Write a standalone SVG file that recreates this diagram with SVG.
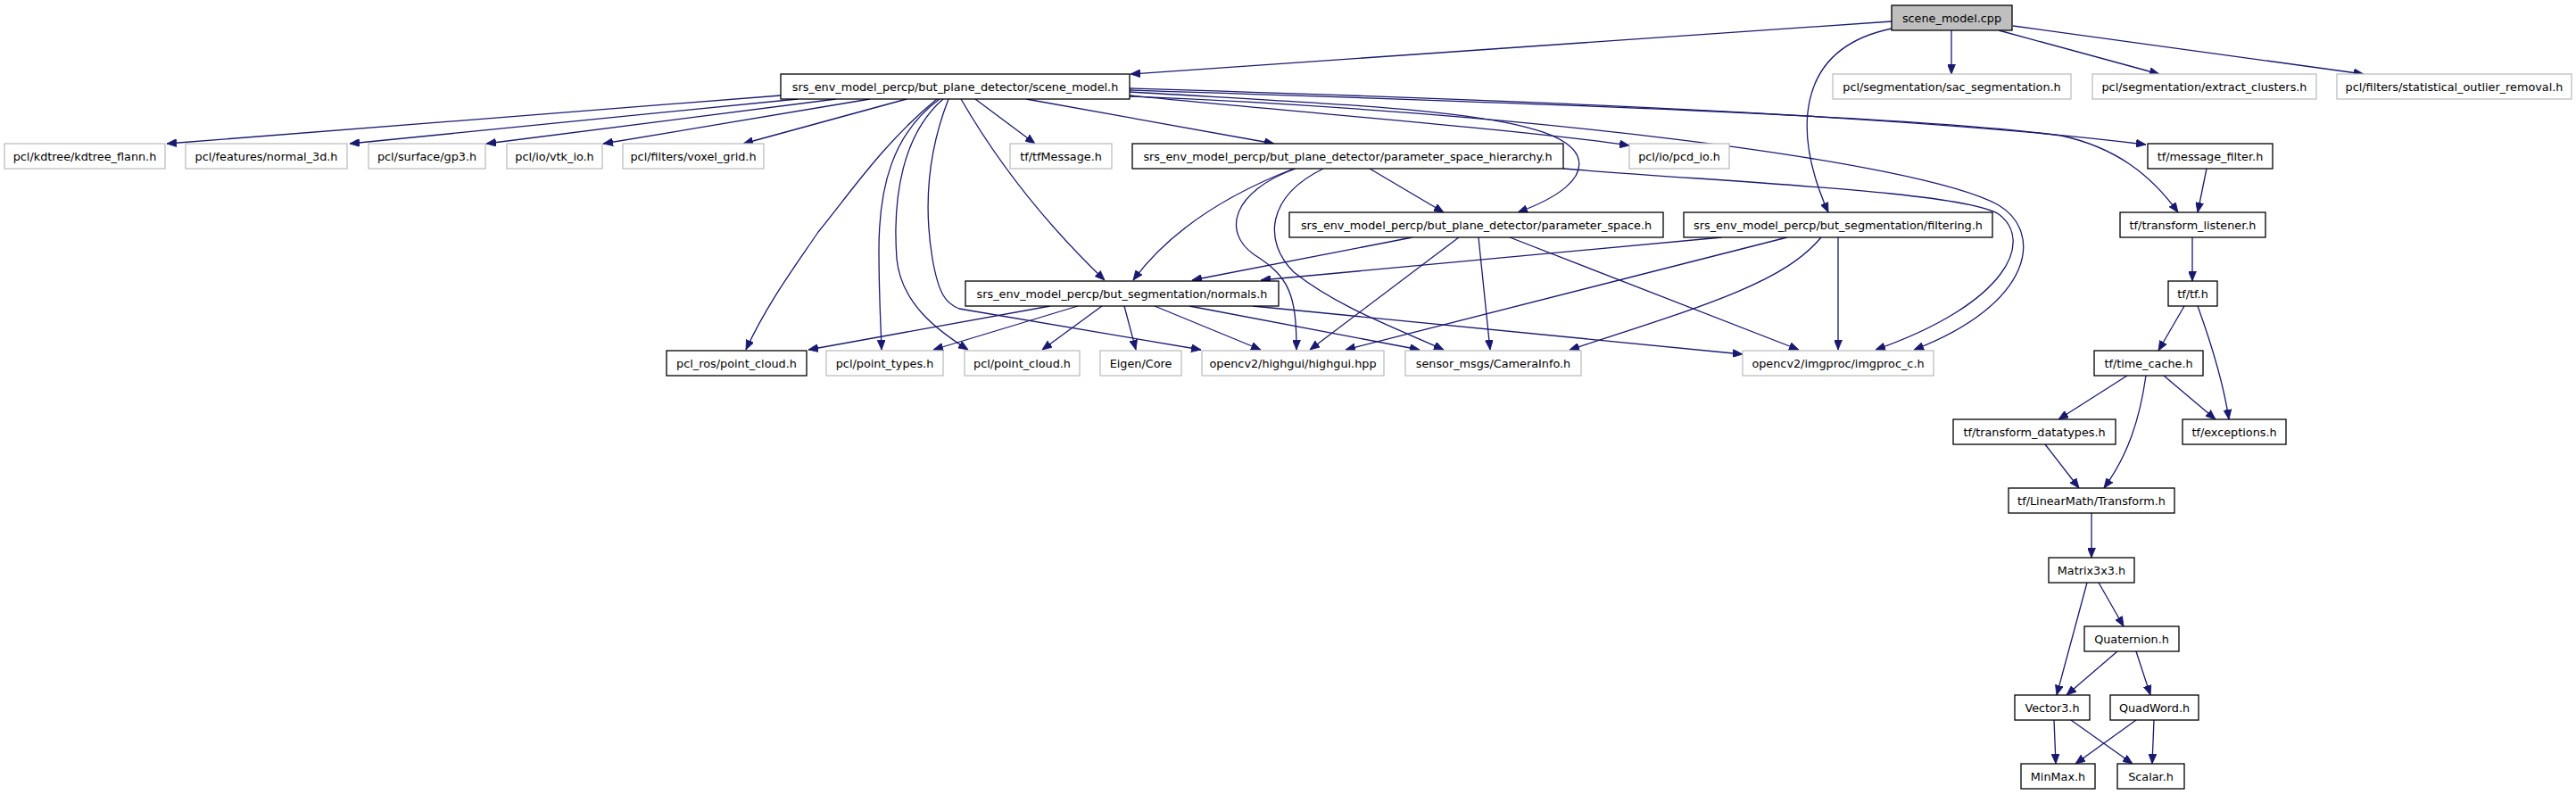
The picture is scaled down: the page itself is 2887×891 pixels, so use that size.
<svg xmlns="http://www.w3.org/2000/svg" width="2887" height="891" viewBox="0 0 2887 891">
<style>
.bg{fill:#fff}
.n rect{fill:#fff;stroke:#000;stroke-width:1.3}
.g rect{fill:#fff;stroke:#bfbfbf;stroke-width:1.3}
.r rect{fill:#bfbfbf;stroke:#000;stroke-width:1.3}
text{font-family:"DejaVu Sans","Liberation Sans",sans-serif;font-size:12.8px;fill:#000;text-anchor:middle}
#edges path{fill:none;stroke:#191970;stroke-width:1.3;marker-end:url(#ah)}
</style>
<defs>
<marker id="ah" viewBox="0 0 11 9" refX="11" refY="4.5" markerWidth="11" markerHeight="9" markerUnits="userSpaceOnUse" orient="auto">
<path d="M0,0 L11,4.5 L0,9 z" fill="#191970" stroke="#191970" stroke-width="0.8"/>
</marker>
</defs>
<rect class="bg" x="0" y="0" width="2887" height="891"/>
<g id="edges">
<path d="M2120,24 L1267,83"/>
<path d="M2187,34 L2187,83"/>
<path d="M2240,34 L2420,83"/>
<path d="M2256,29 L2649,83"/>
<path d="M2120,32 C2010,55 2010,150 2049,238"/>
<path d="M875,107 L187,161"/>
<path d="M894,111 L392,161"/>
<path d="M937,111 L545,161"/>
<path d="M975,111 L676,161"/>
<path d="M1016,111 L833,161"/>
<path d="M1050,111 C990,160 950,220 917,260 C890,300 860,340 836,392"/>
<path d="M1053,111 C1000,150 985,210 985,280 C985,330 987,360 988,392"/>
<path d="M1057,111 C1012,150 1000,220 1005,290 C1010,340 1050,370 1085,392"/>
<path d="M1063,111 C1040,170 1035,230 1045,290 C1052,330 1060,340 1075,346 L1346,392"/>
<path d="M1077,111 Q1140,220 1238,314"/>
<path d="M1093,111 L1160,161"/>
<path d="M1150,111 L1428,161"/>
<path d="M1266,107 C1500,130 1700,145 1826,163"/>
<path d="M1266,103 C1550,120 1745,125 1768,175 C1778,200 1745,222 1701,238"/>
<path d="M1266,99 C1700,112 2150,130 2405,162"/>
<path d="M1266,101 C1700,115 2150,130 2310,152 C2370,165 2410,195 2441,238"/>
<path d="M1266,108 C1700,125 2150,180 2240,230 C2290,260 2280,340 2145,392"/>
<path d="M1535,189 L1618,238"/>
<path d="M1450,189 C1370,220 1310,260 1270,314"/>
<path d="M1452,189 C1380,215 1370,260 1405,285 C1445,310 1453,330 1453,392"/>
<path d="M1483,189 C1420,220 1415,270 1450,305 C1500,345 1570,370 1618,392"/>
<path d="M1752,189 C1950,205 2200,215 2240,240 C2280,270 2250,340 2102,392"/>
<path d="M1583,266 L1336,314"/>
<path d="M1635,266 L1468,392"/>
<path d="M1657,266 L1670,392"/>
<path d="M1692,266 L2016,392"/>
<path d="M1930,266 L1413,314"/>
<path d="M2003,266 L1508,392"/>
<path d="M2041,266 C2000,315 1920,340 1759,392"/>
<path d="M2060,266 L2060,392"/>
<path d="M1177,343 L906,392"/>
<path d="M1208,343 L1046,392"/>
<path d="M1235,343 L1168,392"/>
<path d="M1260,343 L1273,392"/>
<path d="M1294,343 L1413,392"/>
<path d="M1333,343 L1591,392"/>
<path d="M1404,343 L1953,397"/>
<path d="M2473,189 L2463,238"/>
<path d="M2457,266 L2457,315"/>
<path d="M2448,343 L2419,393"/>
<path d="M2463,343 C2480,390 2492,430 2498,470"/>
<path d="M2384,421 L2307,470"/>
<path d="M2405,421 C2398,470 2385,510 2358,547"/>
<path d="M2425,421 L2483,470"/>
<path d="M2292,498 L2330,547"/>
<path d="M2344,575 L2344,625"/>
<path d="M2339,653 L2305,779"/>
<path d="M2352,653 L2380,702"/>
<path d="M2373,730 L2316,779"/>
<path d="M2394,730 L2410,779"/>
<path d="M2302,807 L2304,856"/>
<path d="M2321,807 L2390,856"/>
<path d="M2394,807 L2326,856"/>
<path d="M2414,807 L2412,856"/>
</g>
<g id="cpp" class="r"><rect x="2120" y="6" width="135" height="28"/><text x="2187.5" y="24.5">scene_model.cpp</text></g>
<g id="sm" class="n"><rect x="875" y="83" width="391" height="28"/><text x="1070.5" y="101.5">srs_env_model_percp/but_plane_detector/scene_model.h</text></g>
<g id="sac" class="g"><rect x="2054" y="83" width="267" height="28"/><text x="2187.5" y="101.5">pcl/segmentation/sac_segmentation.h</text></g>
<g id="ext" class="g"><rect x="2345" y="83" width="251" height="28"/><text x="2470.5" y="101.5">pcl/segmentation/extract_clusters.h</text></g>
<g id="sor" class="g"><rect x="2619" y="83" width="263" height="28"/><text x="2750.5" y="101.5">pcl/filters/statistical_outlier_removal.h</text></g>
<g id="kd" class="g"><rect x="5" y="161" width="180" height="28"/><text x="95" y="179.5">pcl/kdtree/kdtree_flann.h</text></g>
<g id="n3d" class="g"><rect x="208" y="161" width="181" height="28"/><text x="298.5" y="179.5">pcl/features/normal_3d.h</text></g>
<g id="gp3" class="g"><rect x="413" y="161" width="131" height="28"/><text x="478.5" y="179.5">pcl/surface/gp3.h</text></g>
<g id="vtk" class="g"><rect x="568" y="161" width="107" height="28"/><text x="621.5" y="179.5">pcl/io/vtk_io.h</text></g>
<g id="vox" class="g"><rect x="698" y="161" width="158" height="28"/><text x="777" y="179.5">pcl/filters/voxel_grid.h</text></g>
<g id="tfm" class="g"><rect x="1132" y="161" width="114" height="28"/><text x="1189" y="179.5">tf/tfMessage.h</text></g>
<g id="psh" class="n"><rect x="1269" y="161" width="483" height="28"/><text x="1510.5" y="179.5">srs_env_model_percp/but_plane_detector/parameter_space_hierarchy.h</text></g>
<g id="pcd" class="g"><rect x="1826" y="161" width="112" height="28"/><text x="1882" y="179.5">pcl/io/pcd_io.h</text></g>
<g id="mf" class="n"><rect x="2407" y="161" width="140" height="28"/><text x="2477" y="179.5">tf/message_filter.h</text></g>
<g id="ps" class="n"><rect x="1445" y="238" width="419" height="28"/><text x="1654.5" y="256.5">srs_env_model_percp/but_plane_detector/parameter_space.h</text></g>
<g id="flt" class="n"><rect x="1887" y="238" width="346" height="28"/><text x="2060" y="256.5">srs_env_model_percp/but_segmentation/filtering.h</text></g>
<g id="tl" class="n"><rect x="2376" y="238" width="163" height="28"/><text x="2457.5" y="256.5">tf/transform_listener.h</text></g>
<g id="nrm" class="n"><rect x="1082" y="315" width="351" height="28"/><text x="1257.5" y="333.5">srs_env_model_percp/but_segmentation/normals.h</text></g>
<g id="tf" class="n"><rect x="2430" y="315" width="55" height="28"/><text x="2457.5" y="333.5">tf/tf.h</text></g>
<g id="pros" class="n"><rect x="747" y="393" width="157" height="28"/><text x="825.5" y="411.5">pcl_ros/point_cloud.h</text></g>
<g id="pt" class="g"><rect x="926" y="393" width="131" height="28"/><text x="991.5" y="411.5">pcl/point_types.h</text></g>
<g id="pc" class="g"><rect x="1081" y="393" width="129" height="28"/><text x="1145.5" y="411.5">pcl/point_cloud.h</text></g>
<g id="eig" class="g"><rect x="1233" y="393" width="91" height="28"/><text x="1278.5" y="411.5">Eigen/Core</text></g>
<g id="hg" class="g"><rect x="1347" y="393" width="204" height="28"/><text x="1449" y="411.5">opencv2/highgui/highgui.hpp</text></g>
<g id="cam" class="g"><rect x="1575" y="393" width="197" height="28"/><text x="1673.5" y="411.5">sensor_msgs/CameraInfo.h</text></g>
<g id="imp" class="g"><rect x="1953" y="393" width="214" height="28"/><text x="2060" y="411.5">opencv2/imgproc/imgproc_c.h</text></g>
<g id="tc" class="n"><rect x="2347" y="393" width="122" height="28"/><text x="2408" y="411.5">tf/time_cache.h</text></g>
<g id="td" class="n"><rect x="2189" y="470" width="182" height="28"/><text x="2280" y="488.5">tf/transform_datatypes.h</text></g>
<g id="exc" class="n"><rect x="2446" y="470" width="116" height="28"/><text x="2504" y="488.5">tf/exceptions.h</text></g>
<g id="tr" class="n"><rect x="2251" y="547" width="186" height="28"/><text x="2344" y="565.5">tf/LinearMath/Transform.h</text></g>
<g id="mat" class="n"><rect x="2296" y="625" width="96" height="28"/><text x="2344" y="643.5">Matrix3x3.h</text></g>
<g id="qt" class="n"><rect x="2336" y="702" width="106" height="28"/><text x="2389" y="720.5">Quaternion.h</text></g>
<g id="v3" class="n"><rect x="2258" y="779" width="84" height="28"/><text x="2300" y="797.5">Vector3.h</text></g>
<g id="qw" class="n"><rect x="2365" y="779" width="99" height="28"/><text x="2414.5" y="797.5">QuadWord.h</text></g>
<g id="mm" class="n"><rect x="2265" y="856" width="83" height="28"/><text x="2306.5" y="874.5">MinMax.h</text></g>
<g id="sc" class="n"><rect x="2373" y="856" width="75" height="28"/><text x="2410.5" y="874.5">Scalar.h</text></g>
</svg>
